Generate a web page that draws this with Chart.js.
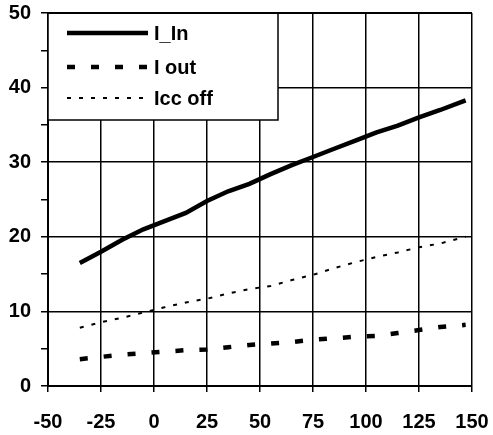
<!DOCTYPE html>
<html>
<head>
<meta charset="utf-8">
<script src="https://cdn.jsdelivr.net/npm/chart.js@4"></script>
<style>
  html, body { margin: 0; padding: 0; background: #fff; }
  #wrap { width: 493px; height: 435px; }
</style>
</head>
<body>
<div id="wrap"><canvas id="chart" width="493" height="435"></canvas></div>
<script>
// data
const temps  = [-35, -25, -15, -5, 5, 15, 25, 35, 45, 55, 65, 75, 85, 95, 105, 115, 125, 135, 147];
const iIn    = [16.5, 18.0, 19.6, 21.0, 22.1, 23.2, 24.8, 26.1, 27.1, 28.4, 29.6, 30.7, 31.8, 32.9, 34.0, 34.9, 36.0, 37.0, 38.3];
const iOut   = [3.6, 3.9, 4.2, 4.4, 4.6, 4.8, 4.9, 5.2, 5.5, 5.7, 5.9, 6.2, 6.4, 6.6, 6.7, 7.1, 7.5, 7.9, 8.2];
const iccOff = [7.8, 8.55, 9.15, 9.85, 10.55, 11.2, 11.7, 12.4, 13.0, 13.4, 14.2, 14.9, 15.8, 16.6, 17.3, 17.9, 18.6, 19.1, 20.0];
const seriesNames = ['I_In', 'I out', 'Icc off'];
const xTicks = [-50, 150, 25];   // min, max, step
const yTicks = [0, 50, 10];      // min, max, major step

const FONT = '"Liberation Sans", Arial, sans-serif';

function pts(ys) { return temps.map((t, i) => ({ x: t, y: ys[i] })); }

// legend box drawn inside the plot, over the grid (like the original)
const boxLegend = {
  id: 'boxLegend',
  afterDatasetsDraw(chart) {
    const { ctx, chartArea } = chart;
    const x0 = chartArea.left, y0 = chartArea.top;
    ctx.save();
    ctx.fillStyle = '#fff';
    ctx.fillRect(x0, y0, 230, 107);
    ctx.strokeStyle = '#000';
    ctx.lineWidth = 1.5;
    ctx.strokeRect(x0, y0, 230, 107);
    // top frame line
    ctx.lineWidth = 2;
    ctx.beginPath();
    ctx.moveTo(chartArea.left, chartArea.top);
    ctx.lineTo(chartArea.right, chartArea.top);
    ctx.stroke();
    const rows = [20, 54, 85];
    chart.data.datasets.forEach((ds, i) => {
      const y = y0 + rows[i];
      ctx.beginPath();
      ctx.setLineDash(ds.borderDash || []);
      ctx.lineWidth = ds.borderWidth;
      ctx.strokeStyle = ds.borderColor;
      ctx.moveTo(x0 + 19, y);
      ctx.lineTo(x0 + 100, y);
      ctx.stroke();
      ctx.setLineDash([]);
      ctx.fillStyle = '#000';
      ctx.font = 'bold 20px ' + FONT;
      ctx.textBaseline = 'middle';
      ctx.fillText(ds.label, x0 + 106, y + 1);
    });
    ctx.restore();
  }
};

new Chart(document.getElementById('chart'), {
  type: 'line',
  data: {
    datasets: [
      { label: seriesNames[0], data: pts(iIn), borderColor: '#000', borderWidth: 4.5, pointRadius: 0, tension: 0 },
      { label: seriesNames[1], data: pts(iOut), borderColor: '#000', borderWidth: 4.5, borderDash: [8, 16], pointRadius: 0, tension: 0 },
      { label: seriesNames[2], data: pts(iccOff), borderColor: '#000', borderWidth: 2, borderDash: [4, 8], pointRadius: 0, tension: 0 }
    ]
  },
  options: {
    responsive: false,
    animation: false,
    layout: { padding: { top: 13, right: 21, left: 0, bottom: 0 } },
    plugins: { legend: { display: false }, tooltip: { enabled: false } },
    scales: {
      x: {
        type: 'linear',
        min: xTicks[0], max: xTicks[1],
        afterFit(s) { s.height = 49; s.paddingLeft = 0; s.paddingRight = 0; },
        border: { color: '#000', width: 2 },
        grid: { color: '#000', lineWidth: 1.5, tickLength: 6, tickColor: '#000', tickWidth: 1.5 },
        ticks: { stepSize: xTicks[2], color: '#000', padding: 18, maxRotation: 0,
                 font: { family: FONT, size: 20, weight: 'bold' } }
      },
      y: {
        min: yTicks[0], max: yTicks[1],
        afterFit(s) { s.width = 48; s.paddingTop = 0; s.paddingBottom = 0; },
        border: { color: '#000', width: 2 },
        grid: {
          color: c => (c.tick && c.tick.value % yTicks[2] === 0) ? '#000' : 'transparent',
          lineWidth: 1.5, tickLength: 7, tickColor: '#000', tickWidth: 1.5
        },
        ticks: { stepSize: yTicks[2] / 2, color: '#000', padding: 10,
                 font: { family: FONT, size: 20, weight: 'bold' },
                 callback: v => (v % yTicks[2] === 0 ? v : '') }
      }
    }
  },
  plugins: [boxLegend]
});
</script>
</body>
</html>
